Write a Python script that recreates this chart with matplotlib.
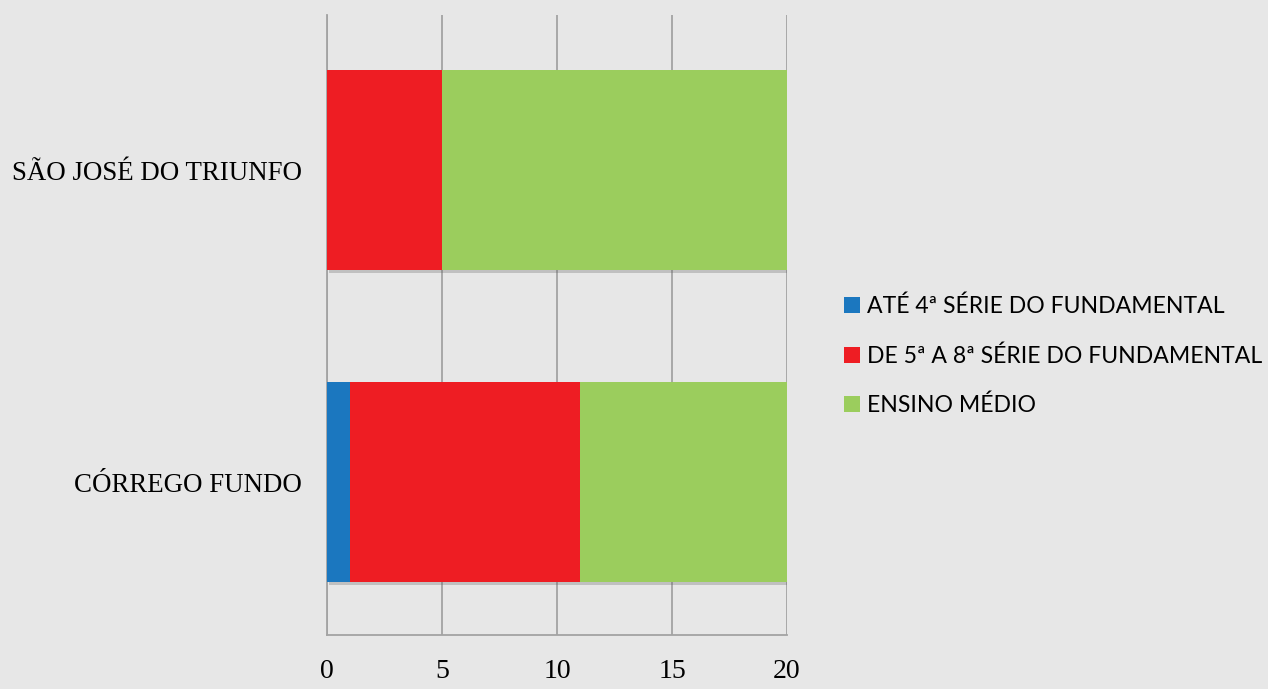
import matplotlib
matplotlib.use("Agg")
import matplotlib.pyplot as plt
import matplotlib.patheffects as pe
from matplotlib.patches import Patch

# Data
locais = ["CÓRREGO FUNDO", "SÃO JOSÉ DO TRIUNFO"]
series = ["ATÉ 4ª SÉRIE DO FUNDAMENTAL",
          "DE 5ª A 8ª SÉRIE DO FUNDAMENTAL",
          "ENSINO MÉDIO"]
ate_4 = [1, 0]
de_5_a_8 = [10, 5]
ensino_medio = [9, 15]
xticks = [0, 5, 10, 15, 20]

colors = ["#1B77BF", "#EE1D23", "#9BCD5D"]
bg = "#E7E7E7"
grid_c = "#A3A3A3"

W, H = 1268, 689
fig = plt.figure(figsize=(W / 100, H / 100), dpi=100, facecolor=bg)
ax = fig.add_axes([327 / W, (H - 635) / H, (787 - 327) / W, (635 - 15) / H])
ax.set_facecolor(bg)

ypos = list(range(len(locais)))
left = [0] * len(locais)
shadow = [pe.SimplePatchShadow(offset=(1.2, -2.0), shadow_rgbFace="#666666", alpha=0.3), pe.Normal()]
for vals, col, name in zip([ate_4, de_5_a_8, ensino_medio], colors, series):
    bars = ax.barh(ypos, vals, left=left, height=0.64, color=col, label=name, zorder=3)
    for b in bars:
        b.set_path_effects(shadow)
    left = [l + v for l, v in zip(left, vals)]

ax.set_xlim(0, 20)
ax.set_ylim(-0.49, 1.497)
ax.set_xticks(xticks)
ax.set_xticklabels([str(t) for t in xticks], fontfamily="Liberation Serif", fontsize=20)
ax.set_yticks(ypos)
ax.set_yticklabels(locais, fontfamily="Liberation Serif", fontsize=19.4)
ax.tick_params(axis="both", length=0)
ax.tick_params(axis="x", pad=17)
ax.tick_params(axis="y", pad=18)

ax.grid(axis="x", color=grid_c, linewidth=1.3, zorder=0)
for s in ["top", "right"]:
    ax.spines[s].set_visible(False)
for s in ["left", "bottom"]:
    ax.spines[s].set_color(grid_c)
    ax.spines[s].set_linewidth(1.3)

handles = [Patch(facecolor=c, edgecolor="none") for c in colors]
fig.legend(handles, series, loc="center left", bbox_to_anchor=(844 / W, (H - 356) / H),
           frameon=False, prop={"family": "Lato", "size": 16.6},
           handlelength=0.68, handleheight=0.68, handletextpad=0.3,
           labelspacing=1.22, borderaxespad=0, borderpad=0)

fig.savefig("out.png", dpi=100, facecolor=bg)
